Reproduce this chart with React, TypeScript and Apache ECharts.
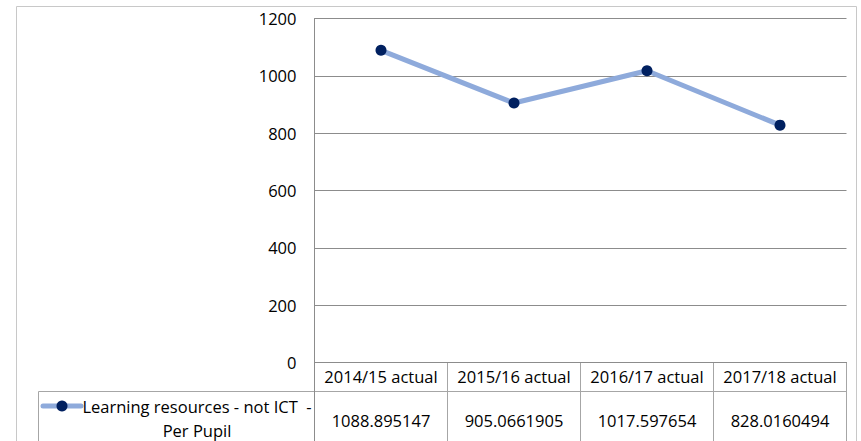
import React, { useEffect, useRef } from "react";
import * as echarts from "echarts";

const categories = ["2014/15 actual", "2015/16 actual", "2016/17 actual", "2017/18 actual"];
const values = [1088.895147, 905.0661905, 1017.597654, 828.0160494];
const valueLabels = ["1088.895147", "905.0661905", "1017.597654", "828.0160494"];
const seriesName = "Learning resources - not ICT  -\nPer Pupil";
const yMin = 0;
const yMax = 1200;
const yInterval = 200;

const W = 861;
const H = 441;
const GRID_LEFT = 314.5;
const GRID_RIGHT_X = 846.5;
const GRID_TOP = 18.5;
const AXIS_Y = 362.5;
const HEADER_BOTTOM = 391.5;
const LEGEND_LEFT = 38.5;
const FONT = "'Open Sans', 'Noto Sans', sans-serif";
const FS = 16.5;
const GRID_COLOR = "#8c8c8c";
const TABLE_COLOR = "#a6a6a6";
const LINE_COLOR = "#8eaadb";
const MARK_COLOR = "#002060";

export default function App() {
  const ref = useRef<HTMLDivElement>(null);
  useEffect(() => {
    if (!ref.current) return;
    const chart = echarts.init(ref.current, undefined, { renderer: "svg" });
    const n = categories.length;
    const colW = (GRID_RIGHT_X - GRID_LEFT) / n;
    const graphics: any[] = [];
    // outer border
    graphics.push({
      type: "rect",
      shape: { x: 16.5, y: 6.5, width: 840, height: 450 },
      style: { fill: "none", stroke: "#c8c8c8", lineWidth: 1 },
      silent: true,
    });
    // header bottom line (spans legend cell too)
    graphics.push({
      type: "line",
      shape: { x1: LEGEND_LEFT, y1: HEADER_BOTTOM, x2: GRID_RIGHT_X, y2: HEADER_BOTTOM },
      style: { stroke: TABLE_COLOR, lineWidth: 1 },
      silent: true,
    });
    // legend cell left line
    graphics.push({
      type: "line",
      shape: { x1: LEGEND_LEFT, y1: HEADER_BOTTOM, x2: LEGEND_LEFT, y2: H + 5 },
      style: { stroke: TABLE_COLOR, lineWidth: 1 },
      silent: true,
    });
    // vertical table lines
    for (let i = 0; i <= n; i++) {
      const x = Math.round(GRID_LEFT + i * colW - 0.5) + 0.5;
      graphics.push({
        type: "line",
        shape: { x1: x, y1: AXIS_Y, x2: x, y2: H + 5 },
        style: { stroke: i === 0 ? GRID_COLOR : TABLE_COLOR, lineWidth: 1 },
        silent: true,
      });
    }
    // values row
    valueLabels.forEach((v, i) => {
      graphics.push({
        type: "text",
        x: GRID_LEFT + (i + 0.5) * colW,
        y: 420,
        style: {
          text: v,
          fill: "#000",
          font: `${FS}px ${FONT}`,
          align: "center",
          verticalAlign: "middle",
        },
        silent: true,
      });
    });
    // legend key
    graphics.push({
      type: "line",
      shape: { x1: 43, y1: 406, x2: 81, y2: 406 },
      style: { stroke: LINE_COLOR, lineWidth: 5, lineCap: "round" },
      silent: true,
    });
    graphics.push({
      type: "circle",
      shape: { cx: 62, cy: 406, r: 5.5 },
      style: { fill: MARK_COLOR },
      silent: true,
    });
    graphics.push({
      type: "text",
      x: 197,
      y: 418,
      style: {
        text: seriesName,
        fill: "#000",
        font: `${FS}px ${FONT}`,
        align: "center",
        verticalAlign: "middle",
        lineHeight: 24,
      },
      silent: true,
    });

    chart.setOption({
      animation: false,
      backgroundColor: "#fff",
      grid: {
        left: GRID_LEFT,
        right: W - GRID_RIGHT_X,
        top: GRID_TOP,
        bottom: H - AXIS_Y,
        containLabel: false,
      },
      xAxis: {
        type: "category",
        data: categories,
        boundaryGap: true,
        axisLine: { show: true, lineStyle: { color: GRID_COLOR, width: 1 } },
        axisTick: { show: false },
        axisLabel: {
          color: "#000",
          fontFamily: FONT,
          fontSize: FS,
          margin: 14,
          verticalAlign: "middle",
          interval: 0,
        },
        splitLine: { show: false },
      },
      yAxis: {
        type: "value",
        min: yMin,
        max: yMax,
        interval: yInterval,
        axisLine: { show: true, lineStyle: { color: GRID_COLOR, width: 1 } },
        axisTick: { show: false },
        axisLabel: {
          color: "#000",
          fontFamily: FONT,
          fontSize: FS,
          margin: 18,
          formatter: (v: number) => String(v),
        },
        splitLine: { show: true, lineStyle: { color: GRID_COLOR, width: 1 } },
      },
      series: [
        {
          name: seriesName.replace("\n", " "),
          type: "line",
          data: values,
          symbol: "circle",
          symbolSize: 11,
          lineStyle: { color: LINE_COLOR, width: 5 },
          itemStyle: { color: MARK_COLOR },
          z: 5,
        },
      ],
      graphic: graphics,
    });
    return () => chart.dispose();
  }, []);
  return (
    <div
      ref={ref}
      style={{ position: "fixed", left: 0, top: 0, width: W, height: H, background: "#fff" }}
    />
  );
}
